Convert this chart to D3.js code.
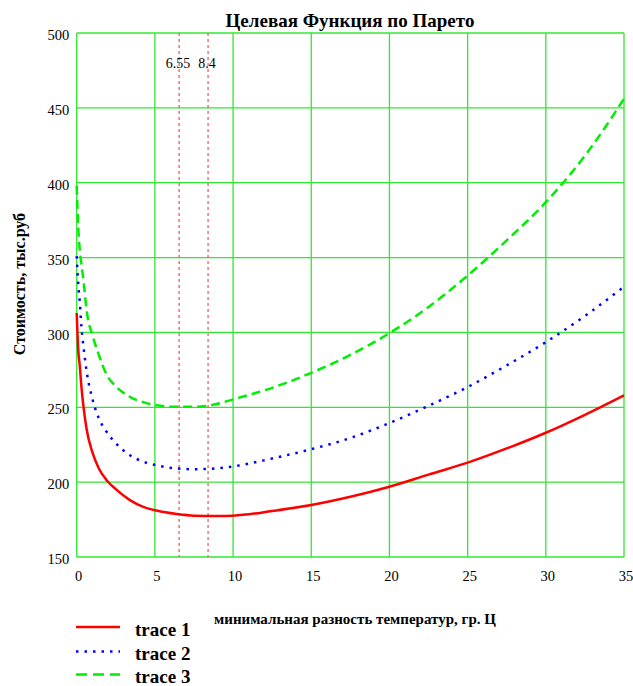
<!DOCTYPE html>
<html>
<head>
<meta charset="utf-8">
<script src="https://cdn.jsdelivr.net/npm/d3@7"></script>
<style>
  body { margin: 0; background: #fff; }
  svg text { font-family: "Liberation Serif", "Times New Roman", Tinos, "DejaVu Serif", serif; fill: #000; }
</style>
</head>
<body>
<svg id="chart" width="633" height="686"></svg>
<script>
// values
var xValues = [0, 0.1, 0.2, 0.3, 0.45, 0.65, 1, 1.4, 1.9, 2.5, 3.4, 4.3, 5.1, 6.4, 7.5, 9, 10, 12.5, 15, 17.5, 20, 22.5, 25, 27.5, 30, 32.5, 35];
var trace1 = [313, 288, 277.5, 264, 249, 234.5, 220, 209.5, 201.5, 195.3, 188, 183.3, 181, 178.7, 177.6, 177.4, 177.6, 180.7, 184.7, 190.2, 196.9, 205, 213, 222.5, 233, 245, 258];
var trace2 = [351, 332, 320, 304, 289, 273, 255.8, 243, 233.8, 226, 218, 213.5, 211.3, 209.1, 208.6, 209.3, 210.5, 215.8, 222, 229.5, 239.5, 251, 263.5, 278, 293.5, 311, 330.5];
var trace3 = [398, 370, 354.5, 346, 333, 313.5, 298.5, 285.5, 272, 264, 257, 253.3, 251.3, 250.3, 250.3, 252.3, 255.3, 263, 273, 285, 299.5, 317, 338, 361.5, 387, 418, 456];

var xTicks = [0, 5, 10, 15, 20, 25, 30, 35];
var yTicks = [150, 200, 250, 300, 350, 400, 450, 500];
var markers = [6.55, 8.4];

var traceNames = ["trace 1", "trace 2", "trace 3"];
var traceColors = ["#ff0000", "#0000ff", "#00ee00"];
var traceDash = [null, "2.5,6", "9,5"];

var svg = d3.select("#chart");
svg.append("rect").attr("width", 633).attr("height", 686).attr("fill", "#fff");

var x = d3.scaleLinear().domain([0, 35]).range([76.7, 624]);
var y = d3.scaleLinear().domain([150, 500]).range([557, 33]);

var grid = "#2fe82f";

// grid
svg.append("g").selectAll("line")
    .data(xTicks)
    .enter().append("line")
    .attr("x1", function(d) { return x(d); })
    .attr("x2", function(d) { return x(d); })
    .attr("y1", y(150)).attr("y2", y(500))
    .attr("stroke", grid).attr("stroke-width", 1.3);

svg.append("g").selectAll("line")
    .data(yTicks)
    .enter().append("line")
    .attr("y1", function(d) { return y(d); })
    .attr("y2", function(d) { return y(d); })
    .attr("x1", x(0)).attr("x2", x(35))
    .attr("stroke", grid).attr("stroke-width", 1.3);

// tick labels only, no axis lines
var xAxis = svg.append("g")
    .attr("transform", "translate(1.5," + y(150) + ")")
    .call(d3.axisBottom(x).tickValues(xTicks).tickSize(0).tickPadding(14));
var yAxis = svg.append("g")
    .attr("transform", "translate(" + x(0) + ",2)")
    .call(d3.axisLeft(y).tickValues(yTicks).tickSize(0).tickPadding(7.5));
[xAxis, yAxis].forEach(function(a) {
  a.attr("font-family", null).attr("font-size", null);
  a.select(".domain").remove();
  a.selectAll("text")
      .style("font-size", "14.5px");
});

// Pareto markers
svg.append("g").selectAll("line")
    .data(markers)
    .enter().append("line")
    .attr("x1", function(d) { return x(d); })
    .attr("x2", function(d) { return x(d); })
    .attr("y1", y(500)).attr("y2", y(150))
    .attr("stroke", "#ff4a4a").attr("stroke-width", 1.2)
    .attr("stroke-dasharray", "3,3");

svg.append("g").selectAll("text")
    .data(markers)
    .enter().append("text")
    .attr("x", function(d) { return x(d) - 1; })
    .attr("y", 68)
    .attr("text-anchor", "middle")
    .style("font-size", "14px")
    .text(function(d) { return d; });

// traces
var line = d3.line()
    .x(function(d) { return x(d[0]); })
    .y(function(d) { return y(d[1]); })
    .curve(d3.curveMonotoneX);

[trace1, trace2, trace3].forEach(function(vals, i) {
  var pts = xValues.map(function(v, j) { return [v, vals[j]]; });
  svg.append("path")
      .datum(pts)
      .attr("d", line)
      .attr("fill", "none")
      .attr("stroke", traceColors[i])
      .attr("stroke-width", 2.5)
      .attr("stroke-dasharray", traceDash[i]);
});

// titles
svg.append("text")
    .attr("x", 350).attr("y", 27)
    .attr("text-anchor", "middle")
    .style("font-size", "19px").style("font-weight", "bold")
    .text("Целевая Функция по Парето");

svg.append("text")
    .attr("transform", "translate(25,284) rotate(-90)")
    .attr("text-anchor", "middle")
    .style("font-size", "16px").style("font-weight", "bold")
    .text("Стоимость, тыс.руб");

svg.append("text")
    .attr("x", 355).attr("y", 624)
    .attr("text-anchor", "middle")
    .style("font-size", "15px").style("font-weight", "bold")
    .text("минимальная разность температур, гр. Ц");

// legend
var legendY = [627, 651.5, 674.5];
var legend = svg.append("g").selectAll("g")
    .data(traceNames)
    .enter().append("g")
    .attr("transform", function(d, i) { return "translate(0," + legendY[i] + ")"; });

legend.append("line")
    .attr("x1", 76).attr("x2", 120)
    .attr("stroke", function(d, i) { return traceColors[i]; })
    .attr("stroke-width", 2.5)
    .attr("stroke-dasharray", function(d, i) { return i == 2 ? "11,6" : traceDash[i]; });

legend.append("text")
    .attr("x", 135).attr("y", 8.5)
    .style("font-size", "19px").style("font-weight", "bold")
    .text(function(d) { return d; });
</script>
</body>
</html>
